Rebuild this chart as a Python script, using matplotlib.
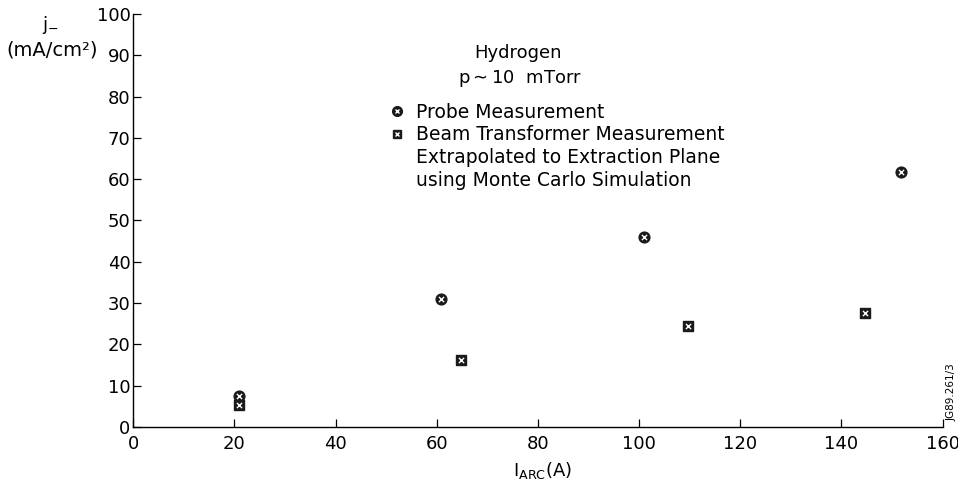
import matplotlib
matplotlib.use("Agg")
import matplotlib.pyplot as plt
from matplotlib.lines import Line2D
from matplotlib.legend_handler import HandlerTuple

plt.rcParams['font.family'] = ['DejaVu Sans']
plt.rcParams['mathtext.fontset'] = 'dejavusans'

# data
probe_x = [20.9, 60.8, 101.0, 151.8]
probe_y = [7.4, 31.0, 46.0, 61.8]
beam_x = [20.9, 64.8, 109.6, 144.6]
beam_y = [5.2, 16.3, 24.4, 27.7]

x_ticks = [0, 20, 40, 60, 80, 100, 120, 140, 160]
y_ticks = [0, 10, 20, 30, 40, 50, 60, 70, 80, 90, 100]

FS = 13
DARK = '#1a1a1a'

fig = plt.figure(figsize=(9.58, 4.84), dpi=100)
ax = fig.add_axes([0.139, 0.118, 0.845, 0.853])

# probe points: dark circle with light cross
ax.scatter(probe_x, probe_y, s=60, marker='o', color=DARK, zorder=3)
ax.scatter(probe_x, probe_y, s=14, marker='x', color='white', linewidths=1.0, zorder=4)
# beam transformer points: dark square with light cross
ax.scatter(beam_x, beam_y, s=50, marker='s', color=DARK, zorder=3)
ax.scatter(beam_x, beam_y, s=14, marker='x', color='white', linewidths=1.0, zorder=4)

ax.set_xlim(0, 160)
ax.set_ylim(0, 100)
ax.set_xticks(x_ticks)
ax.set_yticks(y_ticks)
ax.tick_params(axis='both', direction='in', length=6, width=0.9, labelsize=FS, colors='black')
ax.tick_params(axis='x', pad=6)
ax.tick_params(axis='y', pad=2)
for side in ['top', 'right']:
    ax.spines[side].set_visible(False)
for side in ['left', 'bottom']:
    ax.spines[side].set_linewidth(1.0)

# text block
ax.text(0.475, 0.905, 'Hydrogen', transform=ax.transAxes, ha='center', va='center', fontsize=FS)
ax.text(0.478, 0.843, r'p$\sim$10  mTorr', transform=ax.transAxes, ha='center', va='center', fontsize=FS)

def dot_handle(m, s):
    return (Line2D([], [], marker=m, linestyle='', color=DARK, markersize=s),
            Line2D([], [], marker='x', linestyle='', color='white', markersize=3.5, markeredgewidth=1.0))

blank = Line2D([], [], linestyle='', marker='')
handles = [dot_handle('o', 7), dot_handle('s', 6), blank, blank]
labels = ['Probe Measurement', 'Beam Transformer Measurement',
          'Extrapolated to Extraction Plane', 'using Monte Carlo Simulation']
leg = ax.legend(handles, labels, loc='upper left', bbox_to_anchor=(0.307, 0.808),
                frameon=False, fontsize=13.5, handlelength=0.6, handletextpad=0.75,
                labelspacing=0.2, borderpad=0,
                handler_map={tuple: HandlerTuple(ndivide=1, pad=0)})

# axis labels
fig.text(0.053, 0.948, r'j$_{-}$', ha='center', va='center', fontsize=FS)
fig.text(0.054, 0.897, '(mA/cm²)', ha='center', va='center', fontsize=14)
fig.text(0.566, 0.028, r'I$_{\mathrm{ARC}}$(A)', ha='center', va='center', fontsize=FS)
fig.text(0.993, 0.19, 'JG89.261/3', rotation=90, ha='center', va='center', fontsize=7.5)

fig.savefig('out.png', dpi=100)
